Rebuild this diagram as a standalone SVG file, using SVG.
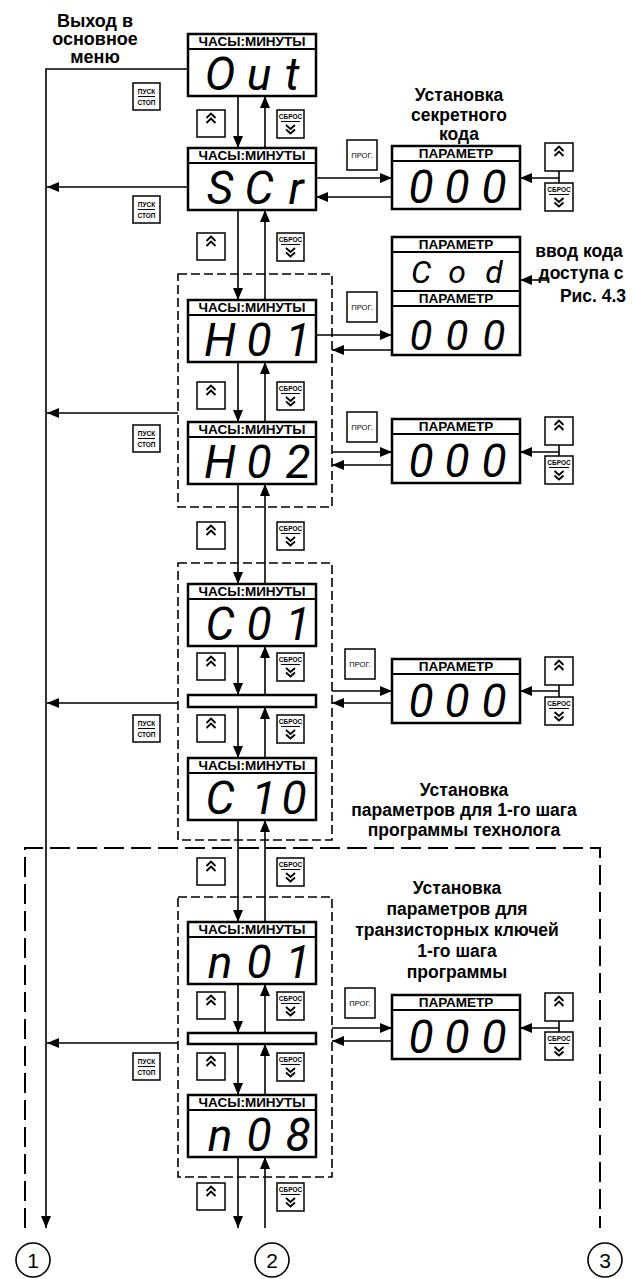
<svg xmlns="http://www.w3.org/2000/svg" width="636" height="1279" viewBox="0 0 636 1279">
<style>
.ln{stroke:#000;stroke-width:1.6;fill:none}
.box{fill:#fff;stroke:#000;stroke-width:2.5}
.sep{stroke:#000;stroke-width:2}
.btn{fill:#fff;stroke:#000;stroke-width:1.5}
.chev{fill:none;stroke:#000;stroke-width:1.8}
.dash{fill:none;stroke:#000;stroke-width:1.6;stroke-dasharray:9 4}
.bigdash{fill:none;stroke:#000;stroke-width:2;stroke-dasharray:20 7}
.hdr{font-family:"Liberation Sans",Arial,sans-serif;font-weight:bold;font-size:13.5px;text-anchor:middle}
.seg{font-family:Roboto,"Liberation Sans",sans-serif;font-style:italic;font-weight:400;font-size:46px;text-anchor:middle}
.lbl{font-family:"Liberation Sans",Arial,sans-serif;font-weight:bold;font-size:17.5px;text-anchor:middle}
.top{font-family:"Liberation Sans",Arial,sans-serif;font-weight:bold;font-size:18px;text-anchor:middle}
.tiny{font-family:"Liberation Sans",Arial,sans-serif;font-weight:bold;font-size:6.5px;text-anchor:middle}
.prog{font-family:"Liberation Sans",Arial,sans-serif;font-size:7.5px;text-anchor:middle}
.num{font-family:"Liberation Sans",Arial,sans-serif;font-size:21px;text-anchor:middle}
</style>
<defs>
<marker id="ah" viewBox="0 0 12 10" refX="12" refY="5" markerWidth="12" markerHeight="10" markerUnits="userSpaceOnUse" orient="auto">
<path d="M0,0 L12,5 L0,10 z" fill="#000"/>
</marker>
</defs>

<!-- dashed frames -->
<g id="frames">
<path class="bigdash" d="M25,1228 V848 H600 V1228"/>
<rect class="dash" x="178" y="274" width="154" height="233"/>
<rect class="dash" x="178" y="563" width="154" height="277"/>
<rect class="dash" x="178" y="897" width="154" height="280"/>
</g>

<!-- connectors -->
<g id="connectors">
<path class="ln" d="M188,69 H46 V1228" marker-end="url(#ah)"/>
<path class="ln" d="M188,187 H47" marker-end="url(#ah)"/>
<path class="ln" d="M178,413 H47" marker-end="url(#ah)"/>
<path class="ln" d="M178,703 H47" marker-end="url(#ah)"/>
<path class="ln" d="M178,1043 H47" marker-end="url(#ah)"/>
<path class="ln" d="M238,96 V148" marker-end="url(#ah)"/>
<path class="ln" d="M238,210 V300" marker-end="url(#ah)"/>
<path class="ln" d="M238,362 V422" marker-end="url(#ah)"/>
<path class="ln" d="M238,484 V584" marker-end="url(#ah)"/>
<path class="ln" d="M238,646 V695" marker-end="url(#ah)"/>
<path class="ln" d="M238,707 V758" marker-end="url(#ah)"/>
<path class="ln" d="M238,820 V922" marker-end="url(#ah)"/>
<path class="ln" d="M238,984 V1033" marker-end="url(#ah)"/>
<path class="ln" d="M238,1044 V1095" marker-end="url(#ah)"/>
<path class="ln" d="M238,1157 V1228" marker-end="url(#ah)"/>
<path class="ln" d="M265,148 V96" marker-end="url(#ah)"/>
<path class="ln" d="M265,300 V210" marker-end="url(#ah)"/>
<path class="ln" d="M265,422 V362" marker-end="url(#ah)"/>
<path class="ln" d="M265,584 V484" marker-end="url(#ah)"/>
<path class="ln" d="M265,695 V646" marker-end="url(#ah)"/>
<path class="ln" d="M265,758 V707" marker-end="url(#ah)"/>
<path class="ln" d="M265,922 V820" marker-end="url(#ah)"/>
<path class="ln" d="M265,1033 V984" marker-end="url(#ah)"/>
<path class="ln" d="M265,1095 V1044" marker-end="url(#ah)"/>
<path class="ln" d="M265,1228 V1157" marker-end="url(#ah)"/>
<path class="ln" d="M316,178 H392" marker-end="url(#ah)"/>
<path class="ln" d="M392,197 H316" marker-end="url(#ah)"/>
<path class="ln" d="M316,335 H392" marker-end="url(#ah)"/>
<path class="ln" d="M392,350 H332" marker-end="url(#ah)"/>
<path class="ln" d="M332,452 H392" marker-end="url(#ah)"/>
<path class="ln" d="M392,465 H332" marker-end="url(#ah)"/>
<path class="ln" d="M332,691 H392" marker-end="url(#ah)"/>
<path class="ln" d="M392,703 H332" marker-end="url(#ah)"/>
<path class="ln" d="M332,1028 H392" marker-end="url(#ah)"/>
<path class="ln" d="M392,1041 H332" marker-end="url(#ah)"/>
<path class="ln" d="M559,171 V183 M559,178 H520" marker-end="url(#ah)"/>
<path class="ln" d="M559,445 V456 M559,452 H520" marker-end="url(#ah)"/>
<path class="ln" d="M559,685 V697 M559,691 H520" marker-end="url(#ah)"/>
<path class="ln" d="M559,1021 V1032 M559,1028 H520" marker-end="url(#ah)"/>
<path class="ln" d="M548,280 H520" marker-end="url(#ah)"/>
</g>

<!-- main displays -->
<g id="out">
<rect class="box" x="188" y="34" width="128" height="62"/><line class="sep" x1="188" y1="49" x2="316" y2="49"/>
<text class="hdr" x="252" y="46">ЧАСЫ:МИНУТЫ</text>
<text class="seg" x="220" y="90">O</text><text class="seg" x="259" y="90">u</text><text class="seg" x="292" y="90">t</text>
</g>
<g id="scr">
<rect class="box" x="188" y="148" width="128" height="62"/><line class="sep" x1="188" y1="163" x2="316" y2="163"/>
<text class="hdr" x="252" y="160">ЧАСЫ:МИНУТЫ</text>
<text class="seg" x="220" y="204">S</text><text class="seg" x="259" y="204">C</text><text class="seg" x="296" y="204">r</text>
</g>
<g id="h01">
<rect class="box" x="188" y="300" width="128" height="62"/><line class="sep" x1="188" y1="315" x2="316" y2="315"/>
<text class="hdr" x="252" y="312">ЧАСЫ:МИНУТЫ</text>
<text class="seg" x="220" y="356">H</text><text class="seg" x="259" y="356">0</text><text class="seg" x="298" y="356">1</text>
</g>
<g id="h02">
<rect class="box" x="188" y="422" width="128" height="62"/><line class="sep" x1="188" y1="437" x2="316" y2="437"/>
<text class="hdr" x="252" y="434">ЧАСЫ:МИНУТЫ</text>
<text class="seg" x="220" y="478">H</text><text class="seg" x="259" y="478">0</text><text class="seg" x="298" y="478">2</text>
</g>
<g id="c01">
<rect class="box" x="188" y="584" width="128" height="62"/><line class="sep" x1="188" y1="599" x2="316" y2="599"/>
<text class="hdr" x="252" y="596">ЧАСЫ:МИНУТЫ</text>
<text class="seg" x="220" y="640">C</text><text class="seg" x="259" y="640">0</text><text class="seg" x="298" y="640">1</text>
</g>
<g id="bar1"><rect class="box" x="188" y="695" width="128" height="12"/></g>
<g id="c10">
<rect class="box" x="188" y="758" width="128" height="62"/><line class="sep" x1="188" y1="773" x2="316" y2="773"/>
<text class="hdr" x="252" y="770">ЧАСЫ:МИНУТЫ</text>
<text class="seg" x="220" y="814">C</text><text class="seg" x="264" y="814">1</text><text class="seg" x="294" y="814">0</text>
</g>
<g id="n01">
<rect class="box" x="188" y="922" width="128" height="62"/><line class="sep" x1="188" y1="937" x2="316" y2="937"/>
<text class="hdr" x="252" y="934">ЧАСЫ:МИНУТЫ</text>
<text class="seg" x="220" y="978">n</text><text class="seg" x="259" y="978">0</text><text class="seg" x="298" y="978">1</text>
</g>
<g id="bar2"><rect class="box" x="188" y="1033" width="128" height="11"/></g>
<g id="n08">
<rect class="box" x="188" y="1095" width="128" height="62"/><line class="sep" x1="188" y1="1110" x2="316" y2="1110"/>
<text class="hdr" x="252" y="1107">ЧАСЫ:МИНУТЫ</text>
<text class="seg" x="220" y="1151">n</text><text class="seg" x="259" y="1151">0</text><text class="seg" x="298" y="1151">8</text>
</g>

<!-- parameter displays -->
<g id="p-scr">
<rect class="box" x="392" y="146" width="128" height="63"/><line class="sep" x1="392" y1="161" x2="520" y2="161"/>
<text class="hdr" x="456" y="158">ПАРАМЕТР</text>
<text class="seg" x="421" y="203">0</text><text class="seg" x="457" y="203">0</text><text class="seg" x="494" y="203">0</text>
</g>
<g id="p-cod">
<rect class="box" x="392" y="237" width="128" height="118"/><line class="sep" x1="392" y1="252" x2="520" y2="252"/>
<line class="sep" x1="392" y1="291" x2="520" y2="291"/><line class="sep" x1="392" y1="306" x2="520" y2="306"/>
<text class="hdr" x="456" y="249">ПАРАМЕТР</text>
<text class="hdr" x="456" y="303">ПАРАМЕТР</text>
<text class="seg" x="421" y="283" style="font-size:32px">C</text><text class="seg" x="457" y="283" style="font-size:32px">o</text><text class="seg" x="494" y="283" style="font-size:32px">d</text>
<text class="seg" x="421" y="350" style="font-size:42px">0</text><text class="seg" x="457" y="350" style="font-size:42px">0</text><text class="seg" x="494" y="350" style="font-size:42px">0</text>
</g>
<g id="p-h02">
<rect class="box" x="392" y="419" width="128" height="64"/><line class="sep" x1="392" y1="434" x2="520" y2="434"/>
<text class="hdr" x="456" y="431">ПАРАМЕТР</text>
<text class="seg" x="421" y="477">0</text><text class="seg" x="457" y="477">0</text><text class="seg" x="494" y="477">0</text>
</g>
<g id="p-c01">
<rect class="box" x="392" y="659" width="128" height="64"/><line class="sep" x1="392" y1="674" x2="520" y2="674"/>
<text class="hdr" x="456" y="671">ПАРАМЕТР</text>
<text class="seg" x="421" y="717">0</text><text class="seg" x="457" y="717">0</text><text class="seg" x="494" y="717">0</text>
</g>
<g id="p-n01">
<rect class="box" x="392" y="995" width="128" height="64"/><line class="sep" x1="392" y1="1010" x2="520" y2="1010"/>
<text class="hdr" x="456" y="1007">ПАРАМЕТР</text>
<text class="seg" x="421" y="1053">0</text><text class="seg" x="457" y="1053">0</text><text class="seg" x="494" y="1053">0</text>
</g>

<!-- up buttons -->
<g id="up-buttons">
<rect class="btn" x="197" y="110" width="28" height="27"/><path class="chev" d="M206.5,118 L211,113.5 L215.5,118 M206.5,123 L211,118.5 L215.5,123"/>
<rect class="btn" x="197" y="233" width="28" height="27"/><path class="chev" d="M206.5,241 L211,236.5 L215.5,241 M206.5,246 L211,241.5 L215.5,246"/>
<rect class="btn" x="197" y="382" width="28" height="27"/><path class="chev" d="M206.5,390 L211,385.5 L215.5,390 M206.5,395 L211,390.5 L215.5,395"/>
<rect class="btn" x="197" y="522" width="28" height="27"/><path class="chev" d="M206.5,530 L211,525.5 L215.5,530 M206.5,535 L211,530.5 L215.5,535"/>
<rect class="btn" x="197" y="653" width="28" height="27"/><path class="chev" d="M206.5,661 L211,656.5 L215.5,661 M206.5,666 L211,661.5 L215.5,666"/>
<rect class="btn" x="197" y="715" width="28" height="27"/><path class="chev" d="M206.5,723 L211,718.5 L215.5,723 M206.5,728 L211,723.5 L215.5,728"/>
<rect class="btn" x="197" y="858" width="28" height="27"/><path class="chev" d="M206.5,866 L211,861.5 L215.5,866 M206.5,871 L211,866.5 L215.5,871"/>
<rect class="btn" x="197" y="992" width="28" height="27"/><path class="chev" d="M206.5,1000 L211,995.5 L215.5,1000 M206.5,1005 L211,1000.5 L215.5,1005"/>
<rect class="btn" x="197" y="1053" width="28" height="27"/><path class="chev" d="M206.5,1061 L211,1056.5 L215.5,1061 M206.5,1066 L211,1061.5 L215.5,1066"/>
<rect class="btn" x="197" y="1183" width="28" height="27"/><path class="chev" d="M206.5,1191 L211,1186.5 L215.5,1191 M206.5,1196 L211,1191.5 L215.5,1196"/>
<rect class="btn" x="545" y="143" width="28" height="28"/><path class="chev" d="M554.5,151 L559,146.5 L563.5,151 M554.5,156 L559,151.5 L563.5,156"/>
<rect class="btn" x="545" y="417" width="28" height="28"/><path class="chev" d="M554.5,425 L559,420.5 L563.5,425 M554.5,430 L559,425.5 L563.5,430"/>
<rect class="btn" x="545" y="657" width="28" height="28"/><path class="chev" d="M554.5,665 L559,660.5 L563.5,665 M554.5,670 L559,665.5 L563.5,670"/>
<rect class="btn" x="545" y="993" width="28" height="28"/><path class="chev" d="M554.5,1001 L559,996.5 L563.5,1001 M554.5,1006 L559,1001.5 L563.5,1006"/>
</g>

<!-- reset buttons -->
<g id="reset-buttons">
<rect class="btn" x="277" y="110" width="27" height="28"/><text class="tiny" x="290.5" y="119">СБРОС</text><line class="sep" x1="281" y1="121.5" x2="300" y2="121.5" style="stroke-width:1"/><path class="chev" d="M286,125 L290.5,129 L295,125 M286,129.5 L290.5,133.5 L295,129.5"/>
<rect class="btn" x="277" y="233" width="27" height="28"/><text class="tiny" x="290.5" y="242">СБРОС</text><line class="sep" x1="281" y1="244.5" x2="300" y2="244.5" style="stroke-width:1"/><path class="chev" d="M286,248 L290.5,252 L295,248 M286,252.5 L290.5,256.5 L295,252.5"/>
<rect class="btn" x="277" y="382" width="27" height="28"/><text class="tiny" x="290.5" y="391">СБРОС</text><line class="sep" x1="281" y1="393.5" x2="300" y2="393.5" style="stroke-width:1"/><path class="chev" d="M286,397 L290.5,401 L295,397 M286,401.5 L290.5,405.5 L295,401.5"/>
<rect class="btn" x="277" y="522" width="27" height="28"/><text class="tiny" x="290.5" y="531">СБРОС</text><line class="sep" x1="281" y1="533.5" x2="300" y2="533.5" style="stroke-width:1"/><path class="chev" d="M286,537 L290.5,541 L295,537 M286,541.5 L290.5,545.5 L295,541.5"/>
<rect class="btn" x="277" y="653" width="27" height="28"/><text class="tiny" x="290.5" y="662">СБРОС</text><line class="sep" x1="281" y1="664.5" x2="300" y2="664.5" style="stroke-width:1"/><path class="chev" d="M286,668 L290.5,672 L295,668 M286,672.5 L290.5,676.5 L295,672.5"/>
<rect class="btn" x="277" y="715" width="27" height="28"/><text class="tiny" x="290.5" y="724">СБРОС</text><line class="sep" x1="281" y1="726.5" x2="300" y2="726.5" style="stroke-width:1"/><path class="chev" d="M286,730 L290.5,734 L295,730 M286,734.5 L290.5,738.5 L295,734.5"/>
<rect class="btn" x="277" y="858" width="27" height="28"/><text class="tiny" x="290.5" y="867">СБРОС</text><line class="sep" x1="281" y1="869.5" x2="300" y2="869.5" style="stroke-width:1"/><path class="chev" d="M286,873 L290.5,877 L295,873 M286,877.5 L290.5,881.5 L295,877.5"/>
<rect class="btn" x="277" y="992" width="27" height="28"/><text class="tiny" x="290.5" y="1001">СБРОС</text><line class="sep" x1="281" y1="1003.5" x2="300" y2="1003.5" style="stroke-width:1"/><path class="chev" d="M286,1007 L290.5,1011 L295,1007 M286,1011.5 L290.5,1015.5 L295,1011.5"/>
<rect class="btn" x="277" y="1053" width="27" height="28"/><text class="tiny" x="290.5" y="1062">СБРОС</text><line class="sep" x1="281" y1="1064.5" x2="300" y2="1064.5" style="stroke-width:1"/><path class="chev" d="M286,1068 L290.5,1072 L295,1068 M286,1072.5 L290.5,1076.5 L295,1072.5"/>
<rect class="btn" x="277" y="1183" width="27" height="28"/><text class="tiny" x="290.5" y="1192">СБРОС</text><line class="sep" x1="281" y1="1194.5" x2="300" y2="1194.5" style="stroke-width:1"/><path class="chev" d="M286,1198 L290.5,1202 L295,1198 M286,1202.5 L290.5,1206.5 L295,1202.5"/>
<rect class="btn" x="545" y="183" width="28" height="28"/><text class="tiny" x="559" y="192">СБРОС</text><line class="sep" x1="549" y1="194.5" x2="569" y2="194.5" style="stroke-width:1"/><path class="chev" d="M554.5,198 L559,202 L563.5,198 M554.5,202.5 L559,206.5 L563.5,202.5"/>
<rect class="btn" x="545" y="456" width="28" height="28"/><text class="tiny" x="559" y="465">СБРОС</text><line class="sep" x1="549" y1="467.5" x2="569" y2="467.5" style="stroke-width:1"/><path class="chev" d="M554.5,471 L559,475 L563.5,471 M554.5,475.5 L559,479.5 L563.5,475.5"/>
<rect class="btn" x="545" y="697" width="28" height="28"/><text class="tiny" x="559" y="706">СБРОС</text><line class="sep" x1="549" y1="708.5" x2="569" y2="708.5" style="stroke-width:1"/><path class="chev" d="M554.5,712 L559,716 L563.5,712 M554.5,716.5 L559,720.5 L563.5,716.5"/>
<rect class="btn" x="545" y="1032" width="28" height="28"/><text class="tiny" x="559" y="1041">СБРОС</text><line class="sep" x1="549" y1="1043.5" x2="569" y2="1043.5" style="stroke-width:1"/><path class="chev" d="M554.5,1047 L559,1051 L563.5,1047 M554.5,1051.5 L559,1055.5 L563.5,1051.5"/>
</g>

<!-- start/stop buttons -->
<g id="startstop-buttons">
<rect class="btn" x="133" y="83" width="27" height="27"/><text class="tiny" x="146.5" y="93.5">ПУСК</text><line class="sep" x1="138" y1="96.5" x2="155" y2="96.5" style="stroke-width:1"/><text class="tiny" x="146.5" y="105">СТОП</text>
<rect class="btn" x="133" y="196" width="27" height="27"/><text class="tiny" x="146.5" y="206.5">ПУСК</text><line class="sep" x1="138" y1="209.5" x2="155" y2="209.5" style="stroke-width:1"/><text class="tiny" x="146.5" y="218">СТОП</text>
<rect class="btn" x="133" y="425" width="27" height="27"/><text class="tiny" x="146.5" y="435.5">ПУСК</text><line class="sep" x1="138" y1="438.5" x2="155" y2="438.5" style="stroke-width:1"/><text class="tiny" x="146.5" y="447">СТОП</text>
<rect class="btn" x="133" y="715" width="27" height="27"/><text class="tiny" x="146.5" y="725.5">ПУСК</text><line class="sep" x1="138" y1="728.5" x2="155" y2="728.5" style="stroke-width:1"/><text class="tiny" x="146.5" y="737">СТОП</text>
<rect class="btn" x="133" y="1053" width="27" height="27"/><text class="tiny" x="146.5" y="1063.5">ПУСК</text><line class="sep" x1="138" y1="1066.5" x2="155" y2="1066.5" style="stroke-width:1"/><text class="tiny" x="146.5" y="1075">СТОП</text>
</g>

<!-- prog buttons -->
<g id="prog-buttons">
<rect class="btn" x="347" y="140" width="30" height="30"/><text class="prog" x="362" y="158">ПРОГ.</text>
<rect class="btn" x="347" y="292" width="30" height="30"/><text class="prog" x="362" y="310">ПРОГ.</text>
<rect class="btn" x="347" y="412" width="30" height="30"/><text class="prog" x="362" y="430">ПРОГ.</text>
<rect class="btn" x="345" y="649" width="30" height="30"/><text class="prog" x="360" y="667">ПРОГ.</text>
<rect class="btn" x="345" y="988" width="30" height="30"/><text class="prog" x="360" y="1006">ПРОГ.</text>
</g>

<!-- labels -->
<g id="labels">
<text class="top" x="95" y="27">Выход в</text>
<text class="top" x="95" y="45">основное</text>
<text class="top" x="95" y="63">меню</text>
<text class="lbl" x="459" y="101">Установка</text>
<text class="lbl" x="459" y="121">секретного</text>
<text class="lbl" x="459" y="140">кода</text>
<text class="lbl" x="579" y="257">ввод кода</text>
<text class="lbl" x="581" y="279">доступа с</text>
<text class="lbl" x="593" y="302">Рис. 4.3</text>
<text class="lbl" x="464" y="796">Установка</text>
<text class="lbl" x="464" y="816">параметров для 1-го шага</text>
<text class="lbl" x="464" y="836">программы технолога</text>
<text class="lbl" x="457" y="894">Установка</text>
<text class="lbl" x="457" y="915">параметров для</text>
<text class="lbl" x="457" y="936">транзисторных ключей</text>
<text class="lbl" x="457" y="957">1-го шага</text>
<text class="lbl" x="457" y="978">программы</text>
</g>

<!-- numbered circles -->
<g id="c1"><circle class="ln" cx="33" cy="1260" r="17"/><text class="num" x="33" y="1268">1</text></g>
<g id="c2"><circle class="ln" cx="272" cy="1260" r="17"/><text class="num" x="272" y="1268">2</text></g>
<g id="c3"><circle class="ln" cx="605" cy="1260" r="17"/><text class="num" x="605" y="1268">3</text></g>
</svg>
